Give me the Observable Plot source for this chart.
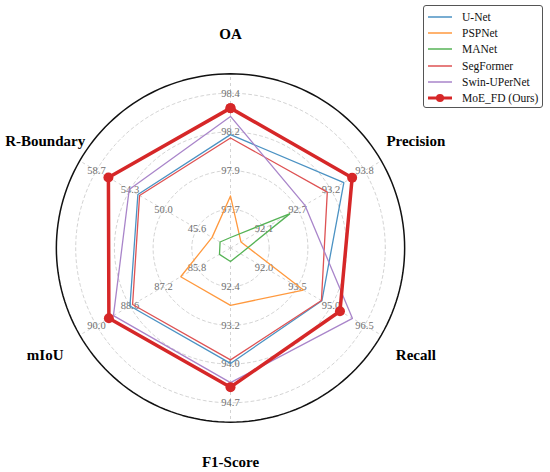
<!DOCTYPE html>
<html>
<head>
<meta charset="utf-8">
<script src="https://cdn.jsdelivr.net/npm/d3@7"></script>
<script src="https://cdn.jsdelivr.net/npm/@observablehq/plot@0.6"></script>
<style>
  html, body { margin: 0; padding: 0; background: #fff; }
  #wrap { position: relative; width: 550px; height: 472px; }
  #chart svg, #chart svg text { font-family: "Liberation Serif", "Times New Roman", serif !important; }
  #legend { position: absolute; left: 423px; top: 5px; width: 120px; height: 103px;
    border: 1px solid #555; border-radius: 3px; background: #fff; box-sizing: border-box;
    font-family: "Liberation Serif", "Times New Roman", serif; font-size: 11.5px; color: #111; }
  .row { position: absolute; left: 0; height: 16px; display: flex; align-items: center; }
  .row svg { margin-left: 3px; margin-right: 9px; }
</style>
</head>
<body>
<div id="wrap"><div id="chart"></div><div id="legend"></div></div>
<script>
// ---- data ----
const axesNames = ["OA", "Precision", "Recall", "F1-Score", "mIoU", "R-Boundary"];
const tickOA = ["97.7", "97.9", "98.2", "98.4"];
const tickPrecision = ["92.1", "92.7", "93.2", "93.8"];
const tickRecall = ["92.0", "93.5", "95.0", "96.5"];
const tickF1 = ["92.4", "93.2", "94.0", "94.7"];
const tickMIoU = ["85.8", "87.2", "88.6", "90.0"];
const tickRBoundary = ["45.6", "50.0", "54.3", "58.7"];
const seriesNames = ["U-Net", "PSPNet", "MANet", "SegFormer", "Swin-UPerNet", "MoE_FD (Ours)"];
//                 OA     Prec   Recall F1     mIoU   R-Bound
const unet       = [98.15, 93.45, 94.59, 93.92, 88.60, 53.30];
const pspnet     = [97.78, 91.71, 93.76, 92.77, 86.48, 43.63];
const manet      = [97.53, 92.54, 90.94, 91.90, 84.86, 42.59];
const segformer  = [98.13, 93.17, 94.57, 93.85, 88.49, 53.08];
const swin       = [98.26, 92.79, 95.96, 94.30, 89.29, 54.43];
const moefd      = [98.31, 93.59, 95.40, 94.39, 89.48, 57.14];
const colors = ["#4b92c3", "#ff993e", "#56b356", "#de5253", "#a985ca", "#d62728"];

// ---- build ----
const ticks = [tickOA, tickPrecision, tickRecall, tickF1, tickMIoU, tickRBoundary];
const seriesVals = [unet, pspnet, manet, segformer, swin, moefd];
const ringFr = [0.2, 0.4, 0.6, 0.8];
const outerFr = 0.9;
const labelFr = 1.106;
const angle = i => Math.PI / 2 - i * Math.PI / 3;
const axScale = ticks.map(t => d3.scaleLinear().domain([+t[0], +t[3]]).range([0.2, 0.8]));

const W = 550, H = 472, cx = 230, cy = 247.5, u = 193.5;

const circPts = [];
[...ringFr, outerFr].forEach(f => {
  d3.range(0, 361, 2).forEach(d => {
    const a = d * Math.PI / 180;
    circPts.push({ring: f, x: f * Math.cos(a), y: f * Math.sin(a)});
  });
});
const gridPts = circPts.filter(p => p.ring !== outerFr);
const outerPts = circPts.filter(p => p.ring === outerFr);

const spokes = axesNames.map((n, i) => ({x: outerFr * Math.cos(angle(i)), y: outerFr * Math.sin(angle(i))}));

const tickRows = [];
ticks.forEach((t, i) => t.forEach((lab, k) => {
  tickRows.push({text: lab, x: ringFr[k] * Math.cos(angle(i)), y: ringFr[k] * Math.sin(angle(i))});
}));

const labelRows = axesNames.map((n, i) => ({text: n, x: labelFr * Math.cos(angle(i)), y: labelFr * Math.sin(angle(i))}));

const lineRows = [];
seriesNames.forEach((s, j) => {
  for (let i = 0; i <= axesNames.length; i++) {
    const k = i % axesNames.length;
    const f = axScale[k](seriesVals[j][k]);
    lineRows.push({name: s, x: f * Math.cos(angle(k)), y: f * Math.sin(angle(k))});
  }
});
const moeName = seriesNames[5];
const thinRows = lineRows.filter(r => r.name !== moeName);
const moeRows = lineRows.filter(r => r.name === moeName);

const serif = "'Liberation Serif', 'Times New Roman', serif";

const chart = Plot.plot({
  width: W, height: H, margin: 0,
  x: {domain: [-cx / u, (W - cx) / u], axis: null},
  y: {domain: [-(H - cy) / u, cy / u], axis: null},
  color: {domain: seriesNames, range: colors},
  style: {fontFamily: serif, background: "#fff"},
  marks: [
    Plot.line(gridPts, {x: "x", y: "y", z: "ring", stroke: "#c8c8c8", strokeWidth: 0.8, strokeDasharray: "3,3"}),
    Plot.link(spokes, {x1: () => 0, y1: () => 0, x2: "x", y2: "y", stroke: "#c8c8c8", strokeWidth: 0.8, strokeDasharray: "3,3"}),
    Plot.line(outerPts, {x: "x", y: "y", stroke: "#111", strokeWidth: 1.5}),
    Plot.text(tickRows, {x: "x", y: "y", text: "text", fill: "#707070", fontSize: 10.5}),
    Plot.line(thinRows, {x: "x", y: "y", z: "name", stroke: "name", strokeWidth: 1.3, strokeLinejoin: "miter"}),
    Plot.line(moeRows, {x: "x", y: "y", stroke: "name", strokeWidth: 3.5, strokeLinejoin: "miter"}),
    Plot.dot(moeRows, {x: "x", y: "y", fill: "name", r: 5}),
    Plot.text(labelRows, {x: "x", y: "y", text: "text", fill: "#000", fontSize: 15, fontWeight: "bold"})
  ]
});
document.getElementById("chart").appendChild(chart);

// legend
const leg = document.getElementById("legend");
seriesNames.forEach((s, j) => {
  const row = document.createElement("div");
  row.className = "row";
  row.style.top = (3 + j * 16.2) + "px";
  const isMoe = j === 5;
  row.innerHTML = `<svg width="26" height="12"><line x1="1" x2="25" y1="6" y2="6" stroke="${colors[j]}" stroke-width="${isMoe ? 3 : 1.5}"/>${isMoe ? `<circle cx="13" cy="6" r="4" fill="${colors[j]}"/>` : ""}</svg><span>${s}</span>`;
  leg.appendChild(row);
});
</script>
</body>
</html>
